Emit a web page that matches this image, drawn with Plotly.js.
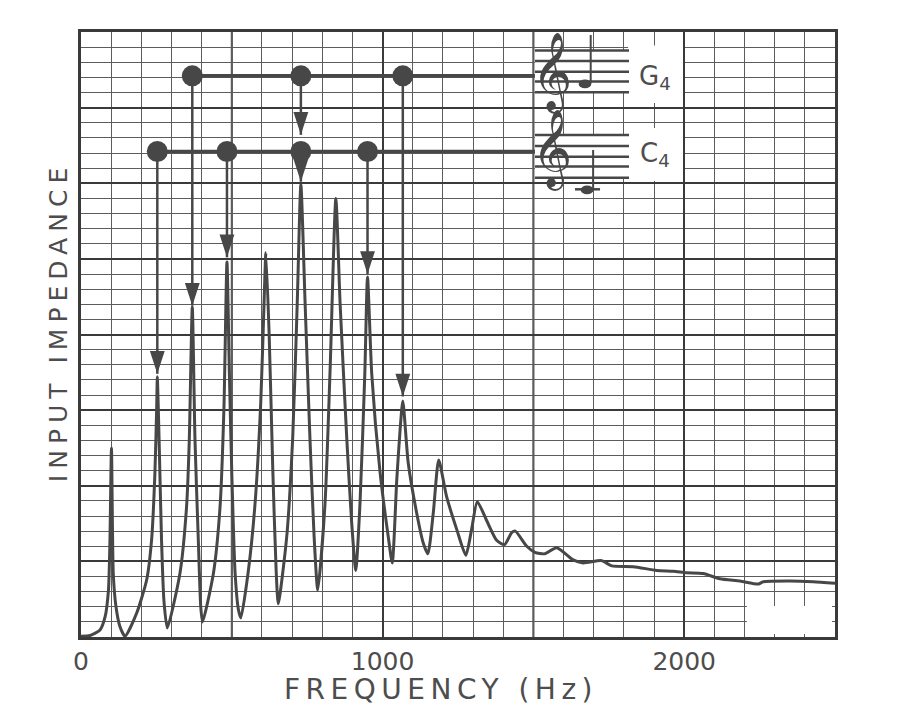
<!DOCTYPE html>
<html>
<head>
<meta charset="utf-8">
<script src="https://cdn.plot.ly/plotly-3.0.1.min.js"></script>
<style>html,body{margin:0;padding:0;background:#fff;}</style>
</head>
<body>
<div id="chart" style="width:924px;height:720px;"></div>
<script>
// ---- data ----
const freqHz = [0, 30, 63, 80, 91, 96, 101, 107, 116, 129, 146,
  185, 218, 234, 245, 251, 253, 259, 267, 275, 286,
  328, 350, 359, 369, 378, 389, 397, 403,
  439, 461, 474, 484, 492, 500, 511, 522, 530,
  555, 577, 596, 607, 613, 624, 636, 647, 654,
  682, 702, 717, 729, 743, 759, 773, 785,
  809, 826, 845, 859, 881, 897, 911,
  925, 941, 950, 964, 991, 1019, 1032,
  1047, 1058, 1067, 1085, 1113, 1135, 1150,
  1168, 1186, 1212, 1246, 1276,
  1295, 1314, 1345, 1378, 1404,
  1428, 1440, 1478, 1505, 1538, 1577, 1632, 1665, 1726, 1760, 1831,
  1909, 1964, 2008, 2063, 2118, 2185, 2246, 2262, 2351, 2428, 2500];
const impedance = [0.05, 0.1, 0.46, 1.34, 3.1, 6.4, 12.5, 4.2, 2.0, 0.7, 0.05,
  1.6, 3.8, 6.4, 10.8, 15.2, 17.2, 13.0, 6.4, 2.4, 0.6,
  4.2, 8.6, 13.0, 21.8, 13.0, 6.4, 2.0, 1.0,
  4.2, 8.6, 15.2, 24.8, 17.4, 10.8, 4.2, 1.8, 1.26,
  4.4, 8.8, 15.5, 22.1, 25.4, 19.9, 11.0, 4.4, 2.2,
  6.6, 13.2, 22.1, 29.9, 22.1, 13.2, 6.6, 3.1,
  8.8, 17.7, 29.0, 22.1, 13.2, 7.7, 4.4,
  8.8, 17.4, 23.8, 17.4, 11.0, 6.6, 4.9,
  10.4, 13.7, 15.6, 11.5, 8.2, 6.2, 5.5,
  8.2, 11.7, 9.3, 7.1, 5.4,
  7.1, 8.95, 7.7, 6.4, 6.1,
  6.9, 7.0, 6.0, 5.6, 5.5, 5.9, 5.1, 4.9, 5.05, 4.7, 4.65,
  4.4, 4.35, 4.25, 4.2, 3.85, 3.7, 3.5, 3.65, 3.7, 3.65, 3.55];

// note markers: harmonic series of G4 and C4 pointing at resonance peaks
const g4Freq = [369, 729, 1067];
const g4Tip = [21.9, 33.2, 15.9];
const c4Freq = [253, 484, 729, 950];
const c4Tip = [17.4, 25.1, 30.1, 24.0];
const g4Row = 37.1;
const c4Row = 32.1;
const staffStart = 1505;

const xTickVals = [0, 1000, 2000];
const heavyGridHz = [500, 1500];
const yTickVals = [0, 5, 10, 15, 20, 25, 30, 35, 40];

// ---- drawing ----
const ink = '#474747';
const txt = '#4d4d4d';

const stemX = [], stemY = [];
g4Freq.forEach((f, i) => { stemX.push(f, f, null); stemY.push(g4Row, g4Tip[i], null); });
c4Freq.forEach((f, i) => { stemX.push(f, f, null); stemY.push(c4Row, c4Tip[i], null); });

const traces = [
  { x: freqHz, y: impedance, mode: 'lines', type: 'scatter',
    line: { color: ink, width: 3, shape: 'spline', smoothing: 0.6 } },
  { x: stemX, y: stemY, mode: 'lines', type: 'scatter', connectgaps: false,
    line: { color: ink, width: 2.5 } },
  { x: g4Freq.concat(c4Freq), y: g4Tip.concat(c4Tip), mode: 'markers', type: 'scatter',
    marker: { symbol: 'arrow', angle: 180, size: 24, color: ink, line: { width: 0 } } },
  { x: [g4Freq[0], staffStart], y: [g4Row, g4Row], mode: 'lines', type: 'scatter',
    line: { color: ink, width: 3.5 } },
  { x: [c4Freq[0], staffStart], y: [c4Row, c4Row], mode: 'lines', type: 'scatter',
    line: { color: ink, width: 3.5 } },
  { x: g4Freq, y: g4Freq.map(() => g4Row), mode: 'markers', type: 'scatter',
    marker: { color: ink, size: 21 } },
  { x: c4Freq, y: c4Freq.map(() => c4Row), mode: 'markers', type: 'scatter',
    marker: { color: ink, size: 21 } }
];

const annotations = [
  { x: 1903, y: 36.96, xref: 'x', yref: 'y', text: 'G<sub>4</sub>', showarrow: false,
    font: { family: 'DejaVu Sans', size: 26, color: txt } },
  { x: 1903, y: 31.87, xref: 'x', yref: 'y', text: 'C<sub>4</sub>', showarrow: false,
    font: { family: 'DejaVu Sans', size: 26, color: txt } },
  { x: 1560, y: 37.3, xref: 'x', yref: 'y', text: '\u{1D11E}', showarrow: false,
    font: { family: 'DejaVu Sans, Noto Sans', size: 68, color: ink } },
  { x: 1560, y: 32.2, xref: 'x', yref: 'y', text: '\u{1D11E}', showarrow: false,
    font: { family: 'DejaVu Sans, Noto Sans', size: 68, color: ink } }
];

const shapes = [];
heavyGridHz.forEach(h => shapes.push({ type: 'line', xref: 'x', yref: 'paper', x0: h, x1: h, y0: 0, y1: 1,
  line: { color: '#3a3a3a', width: 2 }, layer: 'between' }));
function rect(x0, x1, y0, y1) {
  shapes.push({ type: 'rect', xref: 'x', yref: 'y', x0, x1, y0, y1,
    fillcolor: '#ffffff', line: { width: 0 }, layer: 'between' });
}
rect(1505, 1817, 36.02, 38.77);
rect(1814, 1996, 35.3, 39.1);
rect(1505, 1817, 30.37, 33.19);
rect(1814, 1996, 30.15, 33.66);
rect(2208, 2490, 0.2, 2.05);
const g4Staff = [38.77, 38.09, 37.38, 36.72, 36.02];
const c4Staff = [33.19, 32.47, 31.76, 31.10, 30.37];
[...g4Staff, ...c4Staff].forEach(y => shapes.push({ type: 'line', xref: 'x', yref: 'y',
  x0: 1505, x1: 1817, y0: y, y1: y, line: { color: ink, width: 2.5 }, layer: 'above' }));
// G4 note
shapes.push({ type: 'circle', xref: 'x', yref: 'y', x0: 1650, x1: 1692, y0: 36.28, y1: 36.86,
  fillcolor: ink, line: { width: 0 } });
shapes.push({ type: 'line', xref: 'x', yref: 'y', x0: 1690, x1: 1690, y0: 36.6, y1: 39.8,
  line: { color: ink, width: 2 } });
// C4 note
shapes.push({ type: 'circle', xref: 'x', yref: 'y', x0: 1657, x1: 1699, y0: 29.27, y1: 29.85,
  fillcolor: ink, line: { width: 0 } });
shapes.push({ type: 'line', xref: 'x', yref: 'y', x0: 1638, x1: 1721, y0: 29.6, y1: 29.6,
  line: { color: ink, width: 2.5 } });
shapes.push({ type: 'line', xref: 'x', yref: 'y', x0: 1698, x1: 1698, y0: 29.6, y1: 32.2,
  line: { color: ink, width: 2 } });

const layout = {
  width: 924, height: 720,
  margin: { l: 81, r: 89, t: 32, b: 83 },
  paper_bgcolor: '#ffffff', plot_bgcolor: '#ffffff',
  showlegend: false,
  xaxis: {
    range: [0, 2500], tickmode: 'array', tickvals: xTickVals,
    showgrid: true, gridcolor: '#3a3a3a', gridwidth: 2,
    minor: { dtick: 100, tick0: 0, showgrid: true, gridcolor: '#5c5c5c', gridwidth: 1 },
    showline: true, mirror: true, linecolor: '#3a3a3a', linewidth: 3,
    ticks: '', zeroline: false, fixedrange: true,
    tickfont: { family: 'DejaVu Sans', size: 25, color: txt },
    title: { text: 'FREQUENCY (Hz)', standoff: 12, font: { family: 'DejaVu Sans', size: 28, color: txt } }
  },
  yaxis: {
    range: [0, 40], tickmode: 'array', tickvals: yTickVals, showticklabels: false,
    showgrid: true, gridcolor: '#3a3a3a', gridwidth: 2,
    minor: { dtick: 1, tick0: 0, showgrid: true, gridcolor: '#5c5c5c', gridwidth: 1 },
    showline: true, mirror: true, linecolor: '#3a3a3a', linewidth: 3,
    ticks: '', zeroline: false, fixedrange: true,
    title: { text: 'INPUT IMPEDANCE', standoff: 10, font: { family: 'DejaVu Sans', size: 25, color: txt } }
  },
  shapes, annotations
};

function placeTitle(sel, spacing, cx, cy) {
  const t = document.querySelector(sel);
  if (!t) return;
  t.setAttribute('letter-spacing', spacing);
  const r = t.getBoundingClientRect();
  const dx = cx - (r.left + r.width / 2);
  const dy = cy - (r.top + r.height / 2);
  const tr = t.getAttribute('transform') || '';
  t.setAttribute('transform', 'translate(' + dx + ',' + dy + ') ' + tr);
}

Plotly.newPlot('chart', traces, layout, { staticPlot: true }).then(() => {
  placeTitle('.xtitle', '5.5', 441, 690);
  placeTitle('.ytitle', '6', 58, 322);
});
</script>
</body>
</html>
